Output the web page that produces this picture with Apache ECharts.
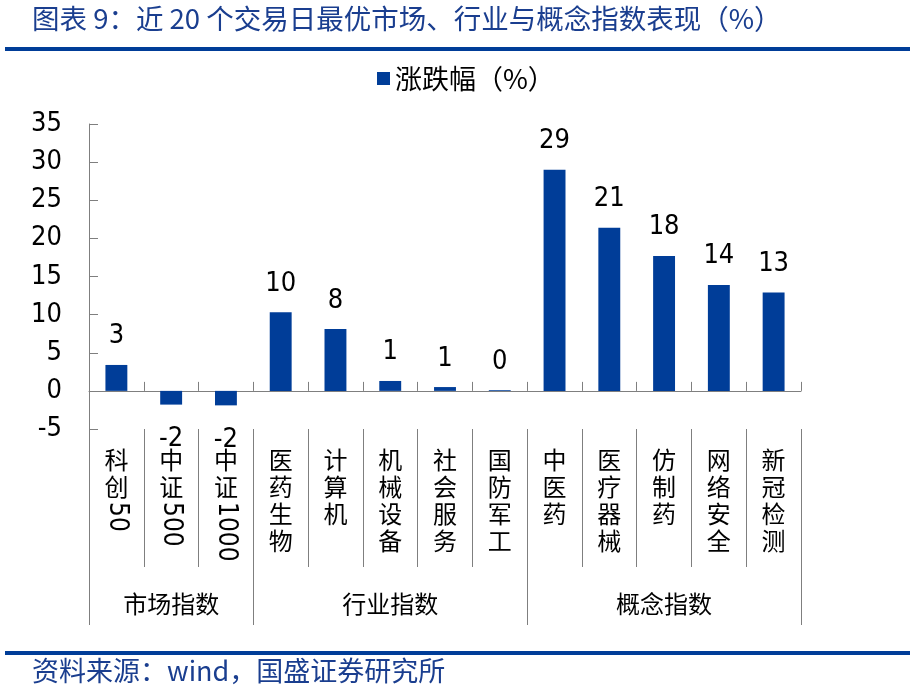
<!DOCTYPE html>
<html><head><meta charset="utf-8">
<script src="https://cdn.jsdelivr.net/npm/echarts@6/dist/echarts.min.js"></script>
<style>html,body{margin:0;padding:0;background:#fff}#c{width:915px;height:686px}</style>
</head><body><div id="c"></div>
<script>
// ---- data ----
const titleText = '图表 9：近 20 个交易日最优市场、行业与概念指数表现（%）';
const sourceText = '资料来源：wind，国盛证券研究所';
const seriesName = '涨跌幅（%）';
const categories = ['科创50','中证500','中证1000','医药生物','计算机','机械设备','社会服务','国防军工','中医药','医疗器械','仿制药','网络安全','新冠检测'];
const values = [3.4, -1.8, -1.9, 10.3, 8.1, 1.3, 0.5, 0.1, 29.0, 21.4, 17.7, 13.9, 12.9];
const groupNames = ['市场指数','行业指数','概念指数'];
const groupSizes = [3, 5, 5];
const yMin = -5, yMax = 35, yStep = 5;

// ---- derived ----
const groupStarts = [];
const groupCenters = {};
let acc = 0;
groupSizes.forEach((s, i) => { groupStarts.push(acc); groupCenters[acc + Math.floor((s - 1) / 2)] = groupNames[i]; acc += s; });

const NUM_FONT = "'DejaVu Sans Condensed','DejaVu Sans',sans-serif";
const CJK = "'Noto Sans CJK SC',sans-serif";
const BLUE = '#003D98';
const TITLE_BLUE = '#1A3E8F';
const GRAY = '#7F7F7F';

const chart = echarts.init(document.getElementById('c'));
chart.setOption({
  animation: false,
  backgroundColor: '#fff',
  title: [
    { text: titleText, left: 27, top: 0, textStyle: { color: TITLE_BLUE, fontSize: 27.5, fontWeight: 'normal', fontFamily: CJK } },
    { text: sourceText, left: 27, top: 652, textStyle: { color: TITLE_BLUE, fontSize: 27, fontWeight: 'normal', fontFamily: CJK } }
  ],
  graphic: [
    { type: 'rect', shape: { x: 5, y: 47, width: 905, height: 4 }, style: { fill: BLUE } },
    { type: 'rect', shape: { x: 5, y: 651, width: 905, height: 4 }, style: { fill: BLUE } }
  ],
  legend: {
    data: [seriesName], left: 372, top: 60, icon: 'rect', itemWidth: 13, itemHeight: 13, itemGap: 10,
    textStyle: { fontSize: 27, fontFamily: CJK, color: '#000' }
  },
  grid: { left: 89, right: 114, top: 124, bottom: 257, containLabel: false },
  xAxis: [
    { type: 'category', data: categories, position: 'bottom',
      axisLine: { onZero: true, lineStyle: { color: GRAY, width: 1 } },
      axisTick: { show: true, inside: true, length: 9, interval: 0, lineStyle: { color: GRAY } },
      axisLabel: { show: false } },
    { type: 'category', data: categories, position: 'bottom',
      axisLine: { show: false, onZero: false },
      axisTick: { show: true, length: 138, interval: 0, lineStyle: { color: GRAY } },
      axisLabel: { interval: 0, margin: 17, color: '#000', fontFamily: CJK, fontSize: 24, lineHeight: 27,
        formatter: v => v.replace(/[0-9]+/g, '').split('').join('\n') } },
    { type: 'category', data: categories, position: 'bottom',
      axisLine: { show: false, onZero: false },
      axisTick: { show: true, length: 196, interval: (i) => groupStarts.indexOf(i) >= 0, lineStyle: { color: GRAY } },
      axisLabel: { interval: 0, margin: 163, color: '#000', fontFamily: CJK, fontSize: 24,
        formatter: (v, i) => groupCenters[i] || '' } },
    { type: 'category', data: categories, position: 'bottom',
      axisLine: { show: false, onZero: false },
      axisTick: { show: false },
      axisLabel: { interval: 0, rotate: -90, margin: 73, color: '#000', fontFamily: NUM_FONT, fontSize: 26,
        formatter: v => { const m = v.match(/[0-9]+/); return m ? m[0] : ''; } } }
  ],
  yAxis: {
    type: 'value', min: yMin, max: yMax, interval: yStep,
    axisLine: { show: true, lineStyle: { color: GRAY, width: 1 } },
    axisTick: { show: true, inside: true, length: 9, lineStyle: { color: GRAY } },
    splitLine: { show: false },
    axisLabel: { margin: 27, color: '#000', fontFamily: NUM_FONT, fontSize: 27 }
  },
  series: [{
    name: seriesName, type: 'bar', xAxisIndex: 0, barWidth: '40%',
    itemStyle: { color: BLUE },
    data: values.map(v => ({ value: v, label: { position: v < 0 ? 'bottom' : 'top', distance: v < 0 ? 21 : 15 } })),
    label: { show: true, color: '#000', fontFamily: NUM_FONT, fontSize: 27,
      formatter: p => String(Math.round(p.value)) }
  }]
});
</script>
</body></html>
